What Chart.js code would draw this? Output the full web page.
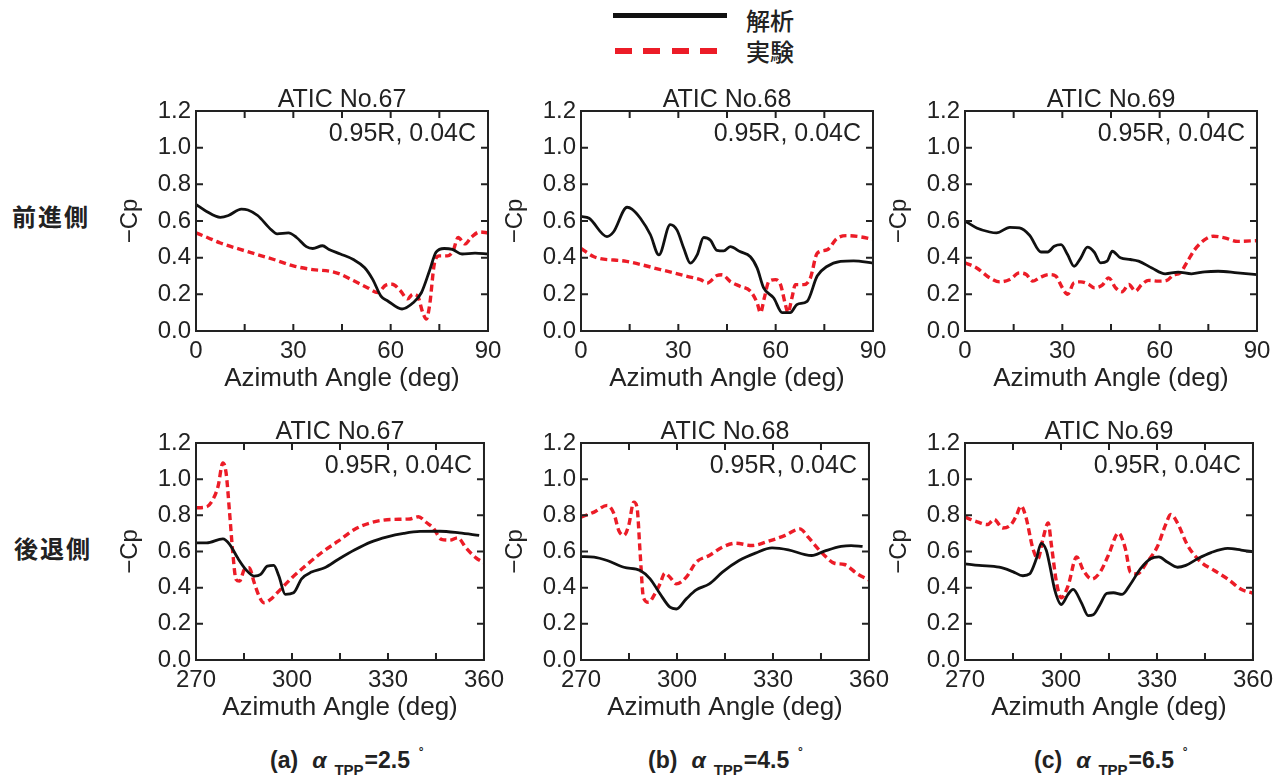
<!DOCTYPE html>
<html>
<head>
<meta charset="utf-8">
<script src="https://cdn.jsdelivr.net/npm/chart.js@4.4.1/dist/chart.umd.min.js"></script>
<style>
  body { margin: 0; background: #fff; }
  #page { position: relative; width: 1288px; height: 778px; overflow: hidden; background: #fff; }
  canvas { position: absolute; }
  .side { position: absolute; font-family: "Noto Sans CJK JP", sans-serif; font-weight: 700;
          font-size: 24px; line-height: 1; letter-spacing: 2px; color: #222; }
  .leg { position: absolute; font-family: "Noto Sans CJK JP", sans-serif; font-weight: 500;
         font-size: 24px; line-height: 1; letter-spacing: 0px; color: #222; }
  .cap { position: absolute; top: 746px; font-family: "Liberation Sans", Arial, sans-serif;
         font-weight: 700; font-size: 23px; line-height: 1; color: #222; white-space: nowrap; }
  .cap i { margin-left: 14px; }
  .cap sub { font-size: 15px; vertical-align: -7px; margin-left: 8px; margin-right: 1px; }
  .cap sup { font-size: 15px; vertical-align: 9px; margin-left: 9px; }
</style>
</head>
<body>
<div id="page"></div>
<script>
// names, labels
const seriesNames = ['解析', '実験'];
const sideLabels = ['前進側', '後退側'];
const panelTitles = ['ATIC No.67', 'ATIC No.68', 'ATIC No.69'];
const stationNote = '0.95R, 0.04C';
const captionLetters = ['(a)', '(b)', '(c)'];
const tppAngles = ['2.5', '4.5', '6.5'];
const yTickLabels = [0, 0.2, 0.4, 0.6, 0.8, 1.0, 1.2];
const advTickLabels = [0, 30, 60, 90];
const retTickLabels = [270, 300, 330, 360];

// advancing side, [azimuth deg, -Cp]
const calc67Adv = [[0,0.69],[3,0.655],[7.5,0.62],[10,0.63],[14,0.665],[16,0.66],[19,0.63],[23,0.555],[25,0.53],[28.5,0.535],[31,0.51],[34,0.46],[36,0.45],[39,0.465],[41,0.445],[44.5,0.42],[48.5,0.39],[52,0.345],[54.5,0.28],[57,0.19],[59,0.165],[63.5,0.12],[67,0.155],[69.5,0.21],[72,0.33],[74,0.43],[76.5,0.45],[79,0.445],[82,0.42],[86,0.425],[90,0.42]];
const exp67Adv = [[0,0.535],[3.5,0.51],[7.5,0.48],[15.5,0.435],[24,0.39],[30,0.355],[36,0.335],[41.5,0.325],[44.5,0.31],[48.5,0.275],[53,0.235],[56,0.21],[58.5,0.25],[60.5,0.255],[63,0.22],[65.2,0.175],[66.8,0.2],[68.3,0.19],[69.9,0.1],[71,0.065],[72,0.14],[73.5,0.37],[75,0.41],[77.5,0.41],[79.2,0.435],[80.8,0.51],[82.9,0.475],[84.8,0.51],[87.4,0.54],[90,0.535]];
const calc68Adv = [[0,0.625],[2.5,0.615],[8,0.515],[10,0.54],[14.2,0.675],[15.7,0.665],[18.3,0.615],[21.4,0.525],[24,0.415],[27.5,0.58],[29.6,0.55],[31.7,0.45],[33.7,0.37],[35.8,0.415],[37.8,0.51],[39.9,0.495],[41.9,0.44],[44,0.437],[46,0.46],[49,0.433],[52.2,0.405],[54.3,0.343],[56.3,0.235],[59.4,0.18],[62,0.1],[64.5,0.1],[66.6,0.145],[69.7,0.162],[72.8,0.3],[75.8,0.352],[80,0.38],[84,0.383],[90,0.37]];
const exp68Adv = [[0,0.45],[4,0.405],[14,0.38],[24.5,0.335],[32.7,0.298],[36.8,0.28],[38.9,0.262],[41.9,0.303],[43.5,0.307],[46,0.27],[49,0.244],[52.2,0.217],[54.3,0.153],[55.3,0.1],[56.5,0.18],[57.9,0.27],[59.9,0.28],[61.5,0.253],[63,0.144],[63.8,0.1],[65,0.18],[66.1,0.253],[68.7,0.253],[70.7,0.289],[72.8,0.424],[75.8,0.442],[78.9,0.505],[82,0.52],[86,0.514],[90,0.5]];
const calc69Adv = [[0,0.6],[3.6,0.562],[7.6,0.54],[9.7,0.535],[13.8,0.565],[16.8,0.562],[19.9,0.522],[23.4,0.431],[25.5,0.431],[27.5,0.462],[29.6,0.471],[31.6,0.417],[33.6,0.353],[35.7,0.399],[37.7,0.457],[39.8,0.431],[41.8,0.372],[43.8,0.381],[45.4,0.435],[47.9,0.399],[51,0.39],[53.5,0.381],[57.6,0.344],[61.7,0.312],[65.7,0.321],[69.8,0.312],[73.9,0.323],[78,0.326],[84,0.317],[90,0.308]];
const exp69Adv = [[0,0.372],[3.6,0.344],[7.6,0.29],[10.7,0.268],[13.8,0.281],[16.8,0.317],[18.9,0.308],[20.9,0.272],[22.9,0.29],[26,0.308],[28,0.299],[30,0.236],[31.6,0.2],[33.6,0.263],[35.7,0.268],[38.2,0.254],[39.8,0.236],[42.3,0.25],[44.3,0.29],[46.4,0.236],[48.4,0.214],[50.5,0.254],[52.5,0.218],[54.5,0.254],[56.6,0.276],[59.6,0.272],[62.2,0.276],[64.2,0.305],[66.3,0.317],[68.3,0.372],[70.8,0.444],[73.9,0.498],[76.5,0.517],[80,0.508],[84,0.489],[90,0.493]];

// retreating side
const calc67Ret = [[270,0.648],[273.3,0.648],[278.4,0.67],[280.5,0.64],[283,0.565],[285.6,0.5],[288.2,0.464],[290.2,0.473],[292.3,0.519],[294.3,0.523],[295.9,0.464],[297.9,0.363],[300.5,0.372],[303,0.449],[306.1,0.486],[310.2,0.51],[314.4,0.556],[319.5,0.608],[324.6,0.652],[329.8,0.681],[334.9,0.7],[340,0.711],[346.2,0.712],[352.3,0.703],[358.5,0.689]];
const exp67Ret = [[270,0.842],[273.3,0.847],[275.3,0.888],[276.9,0.961],[278.4,1.09],[279.4,1.035],[280.5,0.814],[281.5,0.593],[282.5,0.446],[283.6,0.436],[285.1,0.5],[286.6,0.51],[288.2,0.427],[289.7,0.354],[291.2,0.317],[293.3,0.335],[295.9,0.381],[300,0.455],[304.1,0.519],[309.2,0.593],[314.4,0.657],[319.5,0.722],[324.6,0.759],[330.8,0.777],[336.9,0.78],[339.5,0.792],[342.1,0.759],[344.1,0.731],[346.7,0.667],[349.3,0.663],[351.8,0.676],[354.4,0.62],[357.5,0.565],[360,0.538]];
const calc68Ret = [[270,0.572],[274.1,0.569],[278.2,0.55],[283.4,0.513],[288.5,0.495],[291.6,0.449],[294.7,0.366],[297.8,0.292],[299.8,0.282],[302.9,0.338],[306,0.388],[310.1,0.421],[314.2,0.486],[319.4,0.55],[324.5,0.591],[329.7,0.62],[334.8,0.609],[340,0.583],[342.1,0.578],[346.1,0.602],[351.3,0.628],[354.4,0.633],[358,0.628]];
const exp68Ret = [[270,0.79],[274.1,0.818],[278.2,0.855],[280.3,0.809],[281.8,0.716],[283.4,0.689],[284.9,0.744],[286.5,0.873],[287.5,0.845],[288.5,0.587],[289.5,0.347],[291.1,0.319],[293.1,0.366],[294.7,0.421],[296.2,0.48],[297.8,0.458],[299.8,0.421],[302.9,0.458],[306,0.541],[310.1,0.578],[314.2,0.624],[318.3,0.646],[323.5,0.633],[328.6,0.657],[333.8,0.689],[338.4,0.725],[341,0.679],[344.1,0.615],[346.1,0.578],[349.2,0.535],[352.3,0.528],[356.4,0.476],[360,0.443]];
const calc69Ret = [[270,0.532],[274.4,0.523],[280.7,0.513],[284.9,0.489],[288.1,0.466],[290.2,0.476],[292.3,0.56],[293.8,0.645],[295.4,0.607],[296.5,0.523],[298,0.391],[300.1,0.307],[302.2,0.363],[303.8,0.391],[306.4,0.316],[308.5,0.245],[310.1,0.25],[312.2,0.307],[314.3,0.369],[316.4,0.372],[319.1,0.363],[321.7,0.419],[324.8,0.504],[328,0.56],[330.6,0.57],[333.2,0.542],[336.4,0.513],[339,0.523],[342.7,0.56],[346.9,0.594],[352.1,0.617],[356.3,0.608],[360,0.598]];
const exp69Ret = [[270,0.79],[273.4,0.767],[277,0.749],[279.1,0.777],[281.8,0.73],[284.4,0.749],[286,0.796],[287.5,0.852],[289.1,0.786],[291.2,0.617],[292.8,0.56],[294.4,0.673],[296,0.758],[297,0.636],[298.6,0.429],[300.1,0.344],[302.2,0.41],[304.9,0.57],[307,0.495],[309.6,0.448],[312.2,0.485],[314.8,0.579],[318,0.702],[320.1,0.617],[321.7,0.485],[323.8,0.476],[326.9,0.542],[330.1,0.626],[332.7,0.749],[334.3,0.805],[336.4,0.758],[339.5,0.636],[343.7,0.542],[347.9,0.495],[352.1,0.448],[356.3,0.391],[360,0.369]];

const FONT = '"Liberation Sans", Arial, sans-serif';
const INK = '#222';
const RED = '#ec1c27';

// plot box positions on the page
const colLeft = [196, 581, 965];
const rowTop = [111, 443];
const rowHeight = [220, 217];
const plotW = 292;
const axisW = 80, padTop = 26, padRight = 22, axisH = 63;

// box with inward tick marks on all four sides, plus title and station note
const panelFrame = {
  id: 'panelFrame',
  afterDatasetsDraw(chart, args, opts) {
    const ctx = chart.ctx;
    const a = chart.chartArea;
    const xs = chart.scales.x, ys = chart.scales.y;
    ctx.save();
    ctx.strokeStyle = INK;
    ctx.lineWidth = 2;
    ctx.strokeRect(a.left, a.top, a.right - a.left, a.bottom - a.top);
    ctx.beginPath();
    xs.ticks.forEach(t => {
      const px = xs.getPixelForValue(t.value);
      ctx.moveTo(px, a.bottom); ctx.lineTo(px, a.bottom - 7);
      ctx.moveTo(px, a.top); ctx.lineTo(px, a.top + 7);
    });
    ys.ticks.forEach(t => {
      const py = ys.getPixelForValue(t.value);
      ctx.moveTo(a.left, py); ctx.lineTo(a.left + 7, py);
      ctx.moveTo(a.right, py); ctx.lineTo(a.right - 7, py);
    });
    ctx.stroke();

    ctx.fillStyle = INK;
    ctx.font = '25px ' + FONT;
    ctx.textBaseline = 'alphabetic';
    ctx.textAlign = 'center';
    ctx.fillText(opts.title, (a.left + a.right) / 2, a.top - 4);
    ctx.textAlign = 'right';
    ctx.fillText(opts.note, a.right - 12, a.top + 30);
    ctx.restore();
  }
};

function toPoints(list) {
  return list.map(p => ({ x: p[0], y: p[1] }));
}

function drawPanel(row, col, calc, exp, xTicks) {
  const h = rowHeight[row];
  const cv = document.createElement('canvas');
  cv.width = axisW + plotW + padRight;
  cv.height = padTop + h + axisH;
  cv.style.left = (colLeft[col] - axisW) + 'px';
  cv.style.top = (rowTop[row] - padTop) + 'px';
  document.getElementById('page').appendChild(cv);

  new Chart(cv, {
    type: 'line',
    data: {
      datasets: [
        { label: seriesNames[0], data: toPoints(calc), borderColor: '#111', borderWidth: 2.8,
          pointRadius: 0, cubicInterpolationMode: 'monotone' },
        { label: seriesNames[1], data: toPoints(exp), borderColor: RED, borderWidth: 3.4,
          borderDash: [7, 4], pointRadius: 0, cubicInterpolationMode: 'monotone' }
      ]
    },
    options: {
      responsive: false,
      animation: false,
      layout: { padding: { top: padTop, right: padRight, left: 0, bottom: 0 } },
      plugins: {
        legend: { display: false },
        tooltip: { enabled: false },
        panelFrame: { title: panelTitles[col], note: stationNote }
      },
      scales: {
        x: {
          type: 'linear',
          min: xTicks[0],
          max: xTicks[xTicks.length - 1],
          grid: { display: false, drawTicks: false },
          border: { display: false },
          ticks: {
            stepSize: 15, autoSkip: false, maxRotation: 0, padding: 6, color: INK,
            font: { family: FONT, size: 24 },
            callback: v => xTicks.includes(v) ? String(v) : ''
          },
          title: { display: true, text: 'Azimuth Angle (deg)', color: INK,
                   font: { family: FONT, size: 26 }, padding: 0 },
          afterFit: s => { s.height = axisH; }
        },
        y: {
          min: 0, max: 1.2,
          grid: { display: false, drawTicks: false },
          border: { display: false },
          ticks: {
            stepSize: 0.2, padding: 5, color: INK,
            font: { family: FONT, size: 24 },
            callback: v => yTickLabels.some(t => Math.abs(t - v) < 1e-6) ? v.toFixed(1) : ''
          },
          title: { display: true, text: '\u2212Cp', color: INK,
                   font: { family: FONT, size: 24 }, padding: 0 },
          afterFit: s => { s.width = axisW; }
        }
      }
    },
    plugins: [panelFrame]
  });
}

function addText(cls, text, left, top) {
  const d = document.createElement('div');
  d.className = cls;
  d.textContent = text;
  d.style.left = left + 'px';
  d.style.top = top + 'px';
  document.getElementById('page').appendChild(d);
  return d;
}

function drawLegend() {
  const page = document.getElementById('page');
  const solid = document.createElement('div');
  solid.style.cssText = 'position:absolute;left:613px;top:13px;width:114px;height:5px;background:#111;';
  page.appendChild(solid);
  const dash = document.createElement('div');
  dash.style.cssText = 'position:absolute;left:615px;top:48px;width:102px;height:6px;' +
    'background:repeating-linear-gradient(90deg,' + RED + ' 0 17px,transparent 17px 28.5px);';
  page.appendChild(dash);
  addText('leg', seriesNames[0], 746, 8);
  addText('leg', seriesNames[1], 746, 39);
}

function drawCaptions() {
  const capLeft = [270, 648, 1034];
  captionLetters.forEach((c, i) => {
    const d = document.createElement('div');
    d.className = 'cap';
    d.style.left = capLeft[i] + 'px';
    d.innerHTML = c + '<i>\u03b1</i><sub>TPP</sub>=' + tppAngles[i] + '<sup>\u02da</sup>';
    document.getElementById('page').appendChild(d);
  });
}

drawLegend();
addText('side', sideLabels[0], 12, 204);
addText('side', sideLabels[1], 14, 536);

drawPanel(0, 0, calc67Adv, exp67Adv, advTickLabels);
drawPanel(0, 1, calc68Adv, exp68Adv, advTickLabels);
drawPanel(0, 2, calc69Adv, exp69Adv, advTickLabels);
drawPanel(1, 0, calc67Ret, exp67Ret, retTickLabels);
drawPanel(1, 1, calc68Ret, exp68Ret, retTickLabels);
drawPanel(1, 2, calc69Ret, exp69Ret, retTickLabels);

drawCaptions();
</script>
</body>
</html>
